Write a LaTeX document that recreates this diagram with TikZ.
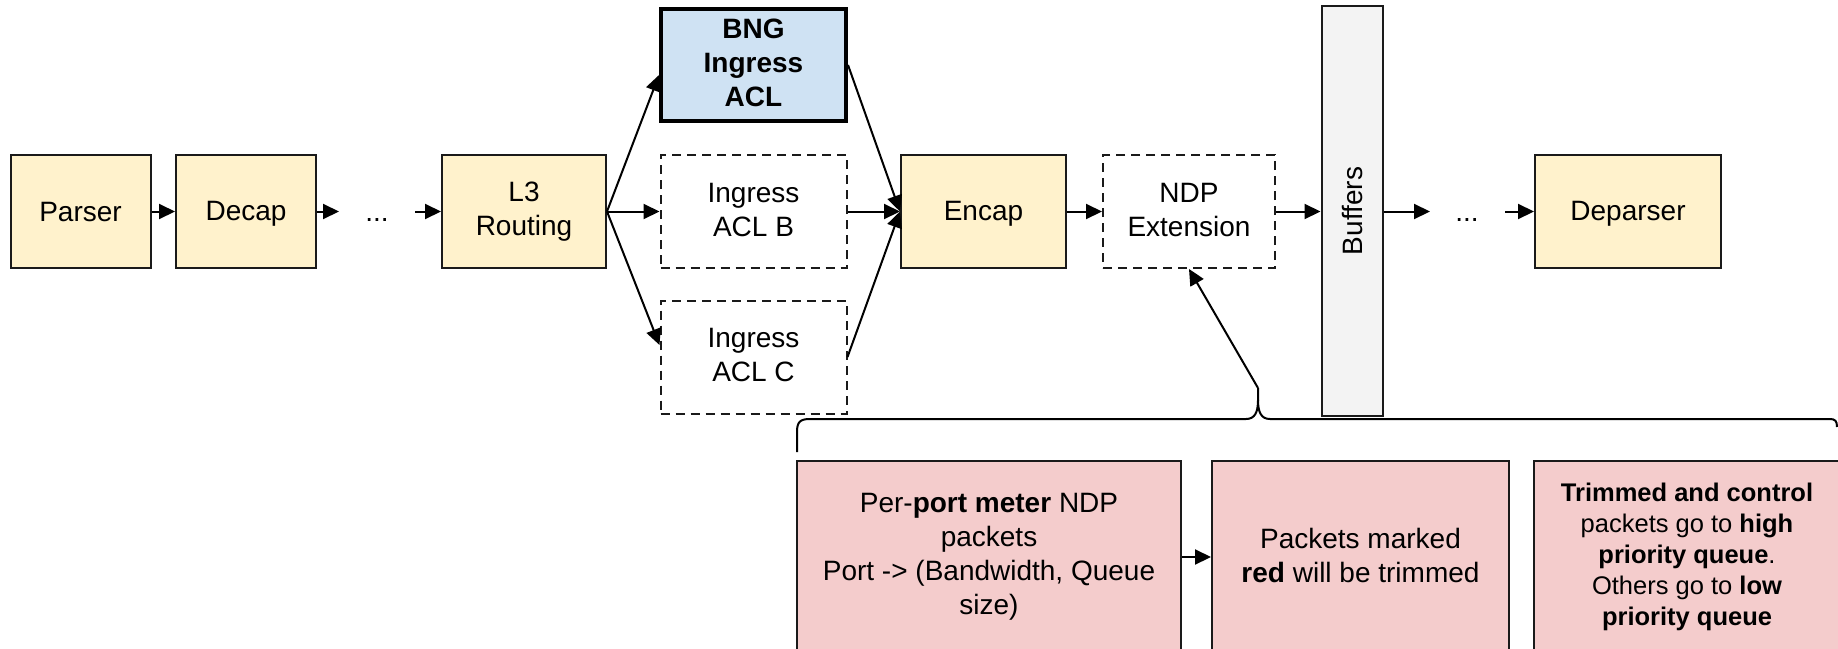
\documentclass[tikz,border=0pt]{standalone}
\usepackage{fontspec}
\setmainfont{Liberation Sans}
\usetikzlibrary{arrows.meta}
\definecolor{stageyellow}{HTML}{FFF2CC}
\definecolor{aclblue}{HTML}{CFE2F3}
\definecolor{bufgray}{HTML}{F3F3F3}
\definecolor{notepink}{HTML}{F4CCCC}
\definecolor{edge}{HTML}{1A1A1A}
% uniform line box so every label sits on the same baseline
\newcommand{\linebox}{\rule[-0.14em]{0pt}{1em}}

\begin{document}
\begin{tikzpicture}[x=1pt,y=-1pt,
  every node/.style={font=\fontsize{28}{34}\selectfont, align=center, inner sep=0pt,
    execute at begin node=\linebox, execute at end node=\linebox},
  stage/.style={draw=edge, line width=2pt, fill=stageyellow, minimum height=113pt},
  optional/.style={draw=edge, line width=2pt, dash pattern=on 9pt off 6pt, fill=white, minimum height=113pt},
  note/.style={draw=edge, line width=2pt, fill=notepink, minimum height=192pt},
  flow/.style={draw=black, line width=2pt, -{Triangle[length=16pt,width=15pt]}},
  bracepen/.style={draw=black, line width=2pt},
]
\clip (0,0) rectangle (1838,648);
\fill[white] (0,0) rectangle (1838,648);

% main pipeline
\node[stage, minimum width=140pt] (parser) at (80.5,211.5) {Parser};
\node[stage, minimum width=140pt] (decap) at (246,211.5) {Decap};
\node (dotsA) at (377,211.5) {...};
\coordinate (dotsAin) at (339,211.5);
\coordinate (dotsAout) at (415,211.5);
\node[stage, minimum width=164pt] (l3) at (524,211.5) {L3\\Routing};

\node[draw=black, line width=4pt, fill=aclblue, minimum width=185pt, minimum height=112pt,
      font=\fontsize{28}{34}\selectfont\bfseries] (bng) at (753.5,65) {BNG\\Ingress\\ACL};
\node[optional, minimum width=186pt] (aclb) at (753.5,211.5) {Ingress\\ACL B};
\node[optional, minimum width=186pt] (aclc) at (753.5,357) {Ingress\\ACL C};

\node[stage, minimum width=165pt] (encap) at (983.5,211.5) {Encap};
\node[optional, minimum width=172pt] (ndp) at (1189,211.5) {NDP\\Extension};
\node[draw=edge, line width=2pt, fill=bufgray, minimum width=61pt, minimum height=410pt] (buf) at (1352,211) {};
\node[rotate=90] (buflabel) at (buf.center) {Buffers};
\node (dotsB) at (1467,211.5) {...};
\coordinate (dotsBin) at (1430,211.5);
\coordinate (dotsBout) at (1505,211.5);
\node[stage, minimum width=186pt] (deparser) at (1628,211.5) {Deparser};

% connectors
\draw[flow] (parser) -- (decap);
\draw[flow] (decap) -- (dotsAin);
\draw[flow] (dotsAout) -- (l3);
\draw[flow] (l3.east) -- ([yshift=-10pt]bng.west);
\draw[flow] (l3.east) -- (aclb.west);
\draw[flow] (l3.east) -- ([yshift=12pt]aclc.west);
\draw[flow] (bng.east) -- (encap.west);
\draw[flow] (aclb.east) -- (encap.west);
\draw[flow] (aclc.east) -- (encap.west);
\draw[flow] (encap) -- (ndp);
\draw[flow] (ndp.east) -- (buf.west |- ndp.east);
\draw[flow] (buf.east |- ndp.east) -- (dotsBin);
\draw[flow] (dotsBout) -- (deparser);

% brace grouping the notes
\coordinate (tip) at (1258,388);
\draw[bracepen] (797,452) -- (797,432) .. controls (797,422) and (800,419) .. (810,419)
  -- (1246,419) .. controls (1255,419) and (1258,412) .. (1258,400) -- (tip);
\draw[bracepen] (1258,400) .. controls (1258,412) and (1261,419) .. (1270,419)
  -- (1830,419) .. controls (1835,419) and (1837,421) .. (1837,427);
\draw[flow] (tip) -- (ndp.south);

% notes
\node[note, minimum width=384pt] (meter) at (989,557)
  {Per-\textbf{port meter} NDP\\packets\\Port -> (Bandwidth, Queue\\size)};
\node[note, minimum width=297pt] (trim) at (1360.5,557)
  {Packets marked\\\textbf{red} will be trimmed};
\node[note, minimum width=306pt, font=\fontsize{25.5}{31}\selectfont] (prio) at (1687,557)
  {\textbf{Trimmed and control}\\packets go to \textbf{high}\\\textbf{priority queue}.\\Others go to \textbf{low}\\\textbf{priority queue}};
\draw[flow] (meter) -- (trim);
\end{tikzpicture}
\end{document}
